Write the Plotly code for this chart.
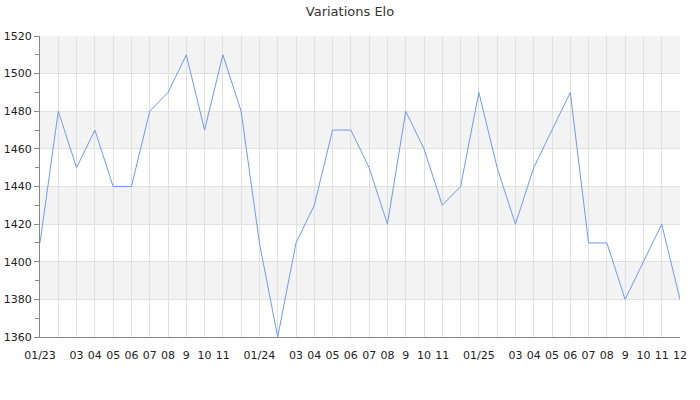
import plotly.graph_objects as go

months = list(range(36))
elo = [1410, 1480, 1450, 1470, 1440, 1440, 1480, 1490, 1510, 1470, 1510, 1480,
       1410, 1360, 1410, 1430, 1470, 1470, 1450, 1420, 1480, 1460, 1430, 1440,
       1490, 1450, 1420, 1450, 1470, 1490, 1410, 1410, 1380, 1400, 1420, 1380]
tick_labels = ["01/23", "", "03", "04", "05", "06", "07", "08", "9", "10", "11", "",
               "01/24", "", "03", "04", "05", "06", "07", "08", "9", "10", "11", "",
               "01/25", "", "03", "04", "05", "06", "07", "08", "9", "10", "11", "12"]
y_min, y_max, y_step = 1360, 1520, 20

fig = go.Figure()
fig.add_trace(go.Scatter(x=months, y=elo, mode="lines",
                         line=dict(color="#6f9af0", width=1), hoverinfo="x+y"))

shapes = []
k = 0
v = y_min
while v < y_max:
    if k % 2 == 1:
        shapes.append(dict(type="rect", xref="paper", yref="y", x0=0, x1=1,
                           y0=v, y1=v + y_step, fillcolor="#f3f3f3",
                           line=dict(width=0), layer="below"))
    v += y_step
    k += 1

fig.update_layout(
    width=700, height=400,
    margin=dict(l=40, r=20, t=36, b=63, autoexpand=False),
    paper_bgcolor="white", plot_bgcolor="white",
    font=dict(family="DejaVu Sans", size=11, color="#333"),
    title=dict(text="Variations Elo", x=0.5, xanchor="center",
               yref="container", y=0.983, yanchor="top",
               font=dict(size=13, color="#333")),
    showlegend=False,
    shapes=shapes,
    xaxis=dict(range=[0, 35], tickmode="array", tickvals=months, ticktext=tick_labels,
               showgrid=True, gridcolor="#e0e0e0", gridwidth=1, zeroline=False,
               showline=True, linecolor="#888", linewidth=1,
               ticks="outside", ticklen=8, tickcolor="rgba(0,0,0,0)",
               automargin=False,
               tickangle=0, tickfont=dict(size=11, color="#222")),
    yaxis=dict(range=[y_min, y_max], tick0=y_min, dtick=y_step,
               showgrid=True, gridcolor="#e0e0e0", gridwidth=1, zeroline=False,
               showline=True, linecolor="#888", linewidth=1,
               ticks="outside", ticklen=5, tickcolor="#888", automargin=False,
               minor=dict(dtick=10, ticks="outside", ticklen=4, tickcolor="#888", showgrid=False),
               tickfont=dict(size=11, color="#222")),
)
fig.write_html("out.html", config={"displayModeBar": False},
               post_script="document.body.style.margin='0';")
